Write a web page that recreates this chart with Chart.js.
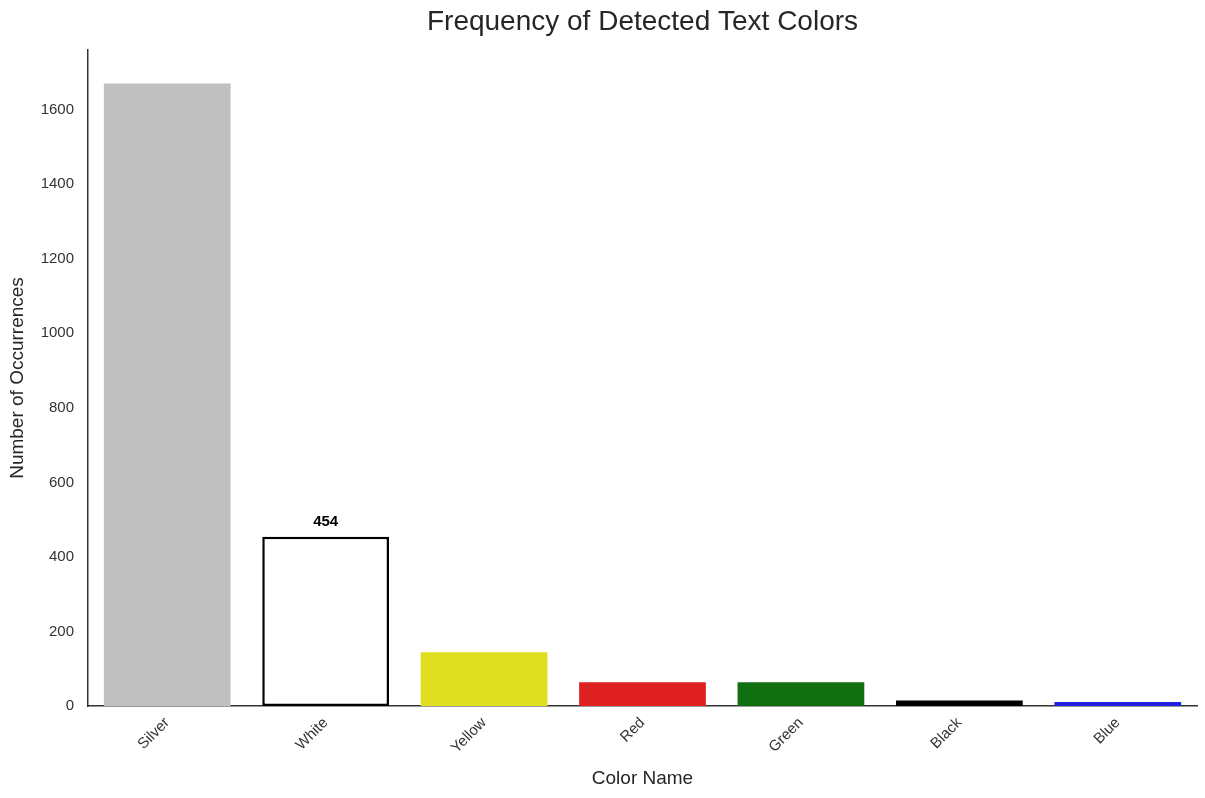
<!DOCTYPE html>
<html>
<head>
<meta charset="utf-8">
<script src="https://cdn.jsdelivr.net/npm/chart.js@4/dist/chart.umd.min.js"></script>
<style>
  html, body { margin: 0; padding: 0; background: #fff; }
  #wrap { width: 1205px; height: 798px; }
</style>
</head>
<body>
<div id="wrap"><canvas id="chart" width="1205" height="798"></canvas></div>
<script>
// Chart data
const colorNames = ["Silver", "White", "Yellow", "Red", "Green", "Black", "Blue"];
const occurrences = [1670, 454, 144, 64, 64, 15, 11];
const barColors = ["#c0c0c0", "#ffffff", "#e0df1f", "#de2020", "#107010", "#000000", "#2020df"];
const yTicks = [0, 200, 400, 600, 800, 1000, 1200, 1400, 1600];
const labelledBar = "White";
const chartTitle = "Frequency of Detected Text Colors";

const FONT = "'Liberation Sans', Arial, sans-serif";

// Title centred over the plot area, plus the count above the labelled bar
const annotations = {
  id: "annotations",
  afterDraw(chart) {
    const ctx = chart.ctx;
    const area = chart.chartArea;
    ctx.save();
    ctx.font = "28px " + FONT;
    ctx.fillStyle = "#262626";
    ctx.textAlign = "center";
    ctx.textBaseline = "middle";
    ctx.fillText(chartTitle, (area.left + area.right) / 2, 22);

    const meta = chart.getDatasetMeta(0);
    const i = colorNames.indexOf(labelledBar);
    const bar = meta.data[i];
    ctx.font = "bold 15px " + FONT;
    ctx.fillStyle = "#000";
    ctx.textBaseline = "bottom";
    ctx.fillText(String(occurrences[i]), bar.x, bar.y - 7);
    ctx.restore();
  },
};

const ctx = document.getElementById("chart").getContext("2d");
new Chart(ctx, {
  type: "bar",
  data: {
    labels: colorNames,
    datasets: [
      {
        data: occurrences,
        backgroundColor: barColors,
        borderColor: colorNames.map((c) => (c === labelledBar ? "#000" : "rgba(0,0,0,0)")),
        borderWidth: colorNames.map((c) => (c === labelledBar ? 2.5 : 0)),
        borderSkipped: false,
        categoryPercentage: 1.0,
        barPercentage: 0.8,
      },
    ],
  },
  options: {
    responsive: false,
    animation: false,
    layout: { padding: { left: 0, right: 8, top: 50, bottom: 0 } },
    plugins: {
      legend: { display: false },
      tooltip: { enabled: false },
      title: { display: false },
    },
    scales: {
      x: {
        grid: { display: false, drawTicks: false },
        border: { display: true, color: "#333", width: 1.5 },
        ticks: {
          color: "#333",
          font: { family: FONT, size: 15 },
          maxRotation: 45,
          minRotation: 45,
          padding: 8,
        },
        title: {
          display: true,
          text: "Color Name",
          color: "#262626",
          font: { family: FONT, size: 19 },
          padding: { top: 0, bottom: 8 },
        },
        afterFit(scale) {
          scale.height = 92;
        },
      },
      y: {
        min: 0,
        max: 1760,
        grid: { display: false, drawTicks: false },
        border: { display: true, color: "#333", width: 1.5 },
        ticks: {
          color: "#333",
          font: { family: FONT, size: 15 },
          padding: 14,
          callback: (v) => String(v),
        },
        afterBuildTicks(scale) {
          scale.ticks = yTicks.map((v) => ({ value: v }));
        },
        title: {
          display: true,
          text: "Number of Occurrences",
          color: "#262626",
          font: { family: FONT, size: 19 },
          padding: { top: 6, bottom: 0 },
        },
        afterFit(scale) {
          scale.width = 88;
        },
      },
    },
  },
  plugins: [annotations],
});
</script>
</body>
</html>
